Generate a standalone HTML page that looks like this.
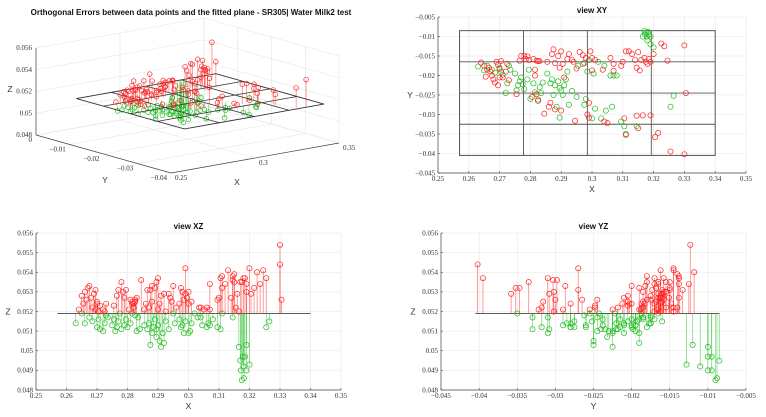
<!DOCTYPE html>
<html><head><meta charset="utf-8"><style>
body{margin:0;background:#fff;width:766px;height:417px;overflow:hidden}
svg{display:block}
text{font-family:"Liberation Serif",serif;font-size:7px;fill:#333}
.t{font-family:"Liberation Sans",sans-serif;font-weight:bold;font-size:8px;fill:#111}
.lab{font-family:"Liberation Sans",sans-serif;font-size:8.5px;fill:#333}
</style></head><body>
<svg id="c" width="766" height="417"></svg>
<script>
const redX=[.264,.265,.266,.2655,.267,.2675,.268,.2665,.269,.2695,.270,.2685,.2695,.270,.271,.272,.2705,.2725,.273,.2755,.2765,.277,.278,.2785,.279,.2795,.281,.2815,.282,.2825,.283,.2815,.2805,.282,.2825,.2845,.2855,.286,.2865,.287,.2875,.288,.288,.289,.2895,.290,.290,.2905,.291,.292,.2925,.2935,.294,.2945,.295,.296,.297,.2975,.298,.2985,.299,.299,.2995,.300,.300,.301,.3035,.304,.305,.306,.307,.307,.3095,.310,.3105,.311,.311,.312,.313,.314,.3145,.3145,.315,.315,.3155,.316,.3165,.317,.3175,.318,.3185,.319,.319,.320,.3205,.3215,.3225,.3235,.3245,.3255,.330,.330,.3305];
const redY=[-.0167,-.0175,-.0185,-.0203,-.0190,-.0200,-.0210,-.0180,-.0165,-.0173,-.0183,-.0218,-.0225,-.0205,-.0205,-.0190,-.0163,-.0170,-.0212,-.0248,-.0162,-.0150,-.0150,-.0158,-.0151,-.0160,-.0158,-.0185,-.0162,-.0163,-.0163,-.0200,-.0255,-.0248,-.0265,-.0298,-.0165,-.0280,-.0270,-.0145,-.0133,-.0168,-.0287,-.0150,-.0180,-.0138,-.0290,-.0170,-.0205,-.0158,-.0145,-.0160,-.0165,-.0316,-.0182,-.0140,-.0148,-.0168,-.0155,-.0300,-.0270,-.0308,-.0138,-.0155,-.0187,-.0160,-.0185,-.0318,-.0322,-.0155,-.0170,-.0188,-.0175,-.0165,-.0310,-.0138,-.0352,-.0138,-.0145,-.0160,-.0303,-.0180,-.0140,-.0335,-.0187,-.0160,-.0302,-.0155,-.0165,-.0170,-.0158,-.0165,-.0302,-.0145,-.0358,-.0347,-.0118,-.0125,-.0162,-.0395,-.0123,-.0402,-.0245];
const redZ=[.0521,.0528,.0530,.0524,.0532,.0533,.0527,.0526,.0529,.0531,.0524,.0522,.0521,.0525,.0523,.0521,.0520,.0520,.0524,.0523,.0528,.0531,.0535,.0530,.0527,.0531,.0526,.0525,.0524,.0525,.0527,.0524,.0521,.0522,.0526,.0536,.0521,.0524,.0531,.0522,.0531,.0525,.0533,.0532,.0535,.0537,.0521,.0524,.0528,.0529,.0520,.0529,.0527,.0525,.0533,.0522,.0524,.0532,.0530,.0526,.0542,.0529,.0527,.0530,.0524,.0525,.0522,.0522,.0521,.0522,.0534,.0521,.0526,.0527,.0537,.0538,.0532,.0534,.0541,.0527,.0536,.0538,.0539,.0535,.0522,.0529,.0520,.0535,.0535,.0537,.0537,.0534,.0530,.0542,.0529,.0532,.0540,.0534,.0541,.0537,.0554,.0544,.0526];
const grnX=[.263,.265,.266,.2675,.2685,.270,.2705,.271,.272,.2725,.273,.2735,.275,.2755,.276,.2765,.277,.2775,.278,.279,.2795,.280,.281,.2815,.2825,.283,.2835,.284,.2855,.2865,.287,.2875,.288,.2885,.289,.2895,.2895,.290,.2905,.291,.2915,.292,.2925,.2935,.295,.2955,.297,.2975,.298,.2985,.299,.300,.3005,.301,.302,.303,.304,.3045,.306,.3065,.307,.308,.3095,.3105,.311,.3145,.3165,.317,.3172,.3175,.3178,.318,.3182,.3185,.319,.319,.320,.3265,.3255];
const grnY=[-.0177,-.0187,-.0175,-.0185,-.0193,-.0180,-.0190,-.0198,-.0245,-.0220,-.0175,-.0185,-.0195,-.0238,-.0225,-.0215,-.0205,-.0222,-.0235,-.0210,-.0185,-.0260,-.0220,-.0243,-.0262,-.0230,-.0245,-.0218,-.0195,-.0220,-.0210,-.0250,-.0225,-.0280,-.0215,-.0308,-.0232,-.0238,-.0250,-.0225,-.0210,-.0190,-.0275,-.0240,-.0255,-.0175,-.0170,-.0275,-.0260,-.0190,-.0160,-.0310,-.0195,-.0285,-.0165,-.0310,-.0175,-.0290,-.0200,-.0280,-.0200,-.0200,-.0318,-.0330,-.0350,-.0330,-.0100,-.0085,-.0095,-.0090,-.0100,-.0110,-.0088,-.0095,-.0120,-.0100,-.0128,-.0252,-.0280];
const grnZ=[.0514,.0519,.0514,.0517,.0515,.0512,.0516,.0511,.0510,.0514,.0518,.0517,.0513,.0516,.0510,.0512,.0515,.0519,.0511,.0513,.0516,.0512,.0514,.0519,.0518,.0510,.0517,.0511,.0513,.0511,.0514,.0503,.0509,.0512,.0516,.0511,.0507,.0513,.0505,.0502,.0509,.0504,.0515,.0511,.0519,.0514,.0516,.0512,.0513,.0509,.0515,.0509,.0510,.0514,.0519,.0517,.0517,.0513,.0512,.0514,.0513,.0516,.0512,.0511,.0519,.0517,.0502,.0495,.0490,.0485,.0497,.0492,.0486,.0497,.0503,.0490,.0493,.0515,.0512];
const planeZ=0.0519, planeX=[0.257,0.34], planeY=[-0.0405,-0.0085];
const xTicks=[.25,.26,.27,.28,.29,.30,.31,.32,.33,.34,.35], xTickLab=["0.25","0.26","0.27","0.28","0.29","0.3","0.31","0.32","0.33","0.34","0.35"];
const yTicks=[-.005,-.01,-.015,-.02,-.025,-.03,-.035,-.04,-.045], yTickLab=["−0.005","−0.01","−0.015","−0.02","−0.025","−0.03","−0.035","−0.04","−0.045"];
const zTicks=[.048,.049,.05,.051,.052,.053,.054,.055,.056], zTickLab=["0.048","0.049","0.05","0.051","0.052","0.053","0.054","0.055","0.056"];
const yzTicks=[-.045,-.04,-.035,-.03,-.025,-.02,-.015,-.01,-.005], yzTickLab=["−0.045","−0.04","−0.035","−0.03","−0.025","−0.02","−0.015","−0.01","−0.005"];

const S=document.getElementById('c'),NS='http://www.w3.org/2000/svg';
function el(t,a,p){const e=document.createElementNS(NS,t);for(const k in a)e.setAttribute(k,a[k]);(p||S).appendChild(e);return e;}
function txt(x,y,s,anchor,cls,p){const e=el('text',{x:x,y:y,'text-anchor':anchor||'middle'},p);if(cls)e.setAttribute('class',cls);e.textContent=s;return e;}
function lin(a,b){return v=>b[0]+(v-a[0])/(a[1]-a[0])*(b[1]-b[0]);}

function panel2D(name,sx,sy,xt,xl,yt,yl,title,xlab,ylab){
  const g=el('g',{});
  
  
  const x0=sx(xt[0]),x1=sx(xt[xt.length-1]),y0=sy(yt[0]),y1=sy(yt[yt.length-1]);
  const L=Math.min(x0,x1),R=Math.max(x0,x1),T=Math.min(y0,y1),B=Math.max(y0,y1);
  xt.forEach((v,i)=>{el('line',{x1:sx(v),x2:sx(v),y1:T,y2:B,stroke:'#e6e6e6','stroke-width':0.6},g);
    el('line',{x1:sx(v),x2:sx(v),y1:B,y2:B-2,stroke:'#444','stroke-width':0.6},g);
    const t=txt(sx(v),B+8,xl[i],'middle',null,g);});
  yt.forEach((v,i)=>{el('line',{x1:L,x2:R,y1:sy(v),y2:sy(v),stroke:'#e6e6e6','stroke-width':0.6},g);
    el('line',{x1:L,x2:L+2,y1:sy(v),y2:sy(v),stroke:'#444','stroke-width':0.6},g);
    const t=txt(L-3,sy(v)+2.3,yl[i],'end',null,g);});
  el('line',{x1:L,x2:R,y1:B,y2:B,stroke:'#444','stroke-width':0.7},g);
  el('line',{x1:L,x2:L,y1:T,y2:B,stroke:'#444','stroke-width':0.7},g);
  const a=txt((L+R)/2,T-4,title,'middle','t',g);
  const b=txt((L+R)/2,B+19,xlab,'middle','lab',g);
  const c=txt(L-28,(T+B)/2+3,ylab,'middle','lab',g);
  return g;
}
function mark(g,x,y,col){const c=el('circle',{cx:x,cy:y,r:2.6,fill:'none',stroke:col,'stroke-width':0.7},g);
  }
function stem(g,x,y0,x2,y,col){const l=el('line',{x1:x,y1:y0,x2:x2,y2:y,stroke:col,'stroke-width':0.8,'stroke-opacity':0.55},g);
  }

{const sx=lin([.25,.35],[438,746]),sy=lin([-.005,-.045],[17,173]);
 const g=panel2D('view-xy-panel',sx,sy,xTicks,xTickLab,yTicks,yTickLab,'view XY','X','Y');
 const px=[planeX[0],planeX[1]],py=[planeY[1],planeY[0]];
 const pg=el('g',{},g);
 el('rect',{x:sx(px[0]),y:sy(py[0]),width:sx(px[1])-sx(px[0]),height:sy(py[1])-sy(py[0]),fill:'none',stroke:'#555','stroke-width':1},pg);
 for(let k=1;k<4;k++){const xv=px[0]+(px[1]-px[0])*k/4,yv=py[0]+(py[1]-py[0])*k/4;
   el('line',{x1:sx(xv),x2:sx(xv),y1:sy(py[0]),y2:sy(py[1]),stroke:'#555','stroke-width':0.9},pg);
   el('line',{x1:sx(px[0]),x2:sx(px[1]),y1:sy(yv),y2:sy(yv),stroke:'#555','stroke-width':0.9},pg);}
 grnX.forEach((v,i)=>mark(g,sx(v),sy(grnY[i]),'#22bb22'));
 redX.forEach((v,i)=>mark(g,sx(v),sy(redY[i]),'#ff2222'));}
{const sx=lin([.25,.35],[36,341]),sz=lin([.048,.056],[390,233]);
 const g=panel2D('view-xz-panel',sx,sz,xTicks,xTickLab,zTicks,zTickLab,'view XZ','X','Z');
 const p=el('line',{x1:sx(planeX[0]),x2:sx(planeX[1]),y1:sz(planeZ),y2:sz(planeZ),stroke:'#444','stroke-width':0.9},g);
 
 grnX.forEach((v,i)=>{stem(g,sx(v),sz(planeZ),sx(v),sz(grnZ[i]),'#22bb22');mark(g,sx(v),sz(grnZ[i]),'#22bb22');});
 redX.forEach((v,i)=>{stem(g,sx(v),sz(planeZ),sx(v),sz(redZ[i]),'#ff2222');mark(g,sx(v),sz(redZ[i]),'#ff2222');});}
{const sy=lin([-.045,-.005],[441,746]),sz=lin([.048,.056],[390,233]);
 const g=panel2D('view-yz-panel',sy,sz,yzTicks,yzTickLab,zTicks,zTickLab,'view YZ','Y','Z');
 const p=el('line',{x1:sy(planeY[0]),x2:sy(planeY[1]),y1:sz(planeZ),y2:sz(planeZ),stroke:'#444','stroke-width':0.9},g);
 
 grnY.forEach((v,i)=>{stem(g,sy(v),sz(planeZ),sy(v),sz(grnZ[i]),'#22bb22');mark(g,sy(v),sz(grnZ[i]),'#22bb22');});
 redY.forEach((v,i)=>{stem(g,sy(v),sz(planeZ),sy(v),sz(redZ[i]),'#ff2222');mark(g,sy(v),sz(redZ[i]),'#ff2222');});}
{const g=el('g',{});
 
 
 const P=(x,y,z)=>[171+(x-.25)/.1*168-(y+.04)/.04*135, 173-(x-.25)/.1*30-(y+.04)/.04*38-(z-.048)/.008*87];
 const L=(a,b,c,w)=>{el('line',{x1:a[0],y1:a[1],x2:b[0],y2:b[1],stroke:c,'stroke-width':w||0.6},g);};
 const gx=[.25,.3,.35],gy=[-.04,-.03,-.02,-.01,0],gz=[.048,.05,.052,.054,.056];
 gz.forEach(z=>{L(P(.25,0,z),P(.35,0,z),'#e4e4e4');L(P(.35,0,z),P(.35,-.04,z),'#e4e4e4');});
 gx.forEach(x=>{L(P(x,0,.048),P(x,0,.056),'#e4e4e4');L(P(x,0,.048),P(x,-.04,.048),'#e4e4e4');});
 gy.forEach(y=>{L(P(.35,y,.048),P(.35,y,.056),'#e4e4e4');L(P(.25,y,.048),P(.35,y,.048),'#e4e4e4');});
 L(P(.25,0,.048),P(.25,0,.056),'#444',0.7);L(P(.25,0,.048),P(.25,-.04,.048),'#444',0.7);L(P(.25,-.04,.048),P(.35,-.04,.048),'#444',0.7);
 gz.forEach((z,i)=>{const p=P(.25,0,z);const t=txt(p[0]-4,p[1]+2,zTickLab[i*2],'end',null,g);});
 [[0,'0'],[-.01,'−0.01'],[-.02,'−0.02'],[-.03,'−0.03'],[-.04,'−0.04']].forEach(d=>{const p=P(.25,d[0],.048);const t=txt(p[0]-4,p[1]+7,d[1],'end',null,g);});
 [[.25,'0.25'],[.3,'0.3'],[.35,'0.35']].forEach(d=>{const p=P(d[0],-.04,.048);const t=txt(p[0]+4,p[1]+7,d[1],'start',null,g);});
 const a=txt(191,15,'Orthogonal Errors between data points and the fitted plane - SR305| Water Milk2 test','middle','t',g);
 const b=txt(105,183,'Y','middle','lab',g);
 const c=txt(237,185,'X','middle','lab',g);
 const d=txt(10,92,'Z','middle','lab',g);
 const m=(x,y,z,col)=>{const p=P(x,y,z),q=P(x,y,planeZ);stem(g,q[0],q[1],p[0],p[1],col);
   const e=el('circle',{cx:p[0],cy:p[1],r:2.3,fill:'none',stroke:col,'stroke-width':0.7},g);
   };
 grnX.forEach((v,i)=>m(v,grnY[i],grnZ[i],'#22bb22'));
 const pg=el('g',{},g);
 const c4=[P(planeX[0],planeY[0],planeZ),P(planeX[1],planeY[0],planeZ),P(planeX[1],planeY[1],planeZ),P(planeX[0],planeY[1],planeZ)];
 el('polygon',{points:c4.map(p=>p.join(',')).join(' '),fill:'none',stroke:'#333','stroke-width':0.9},pg);
 for(let k=1;k<4;k++){const xv=planeX[0]+(planeX[1]-planeX[0])*k/4,yv=planeY[0]+(planeY[1]-planeY[0])*k/4;
   let p1=P(xv,planeY[0],planeZ),p2=P(xv,planeY[1],planeZ);el('line',{x1:p1[0],y1:p1[1],x2:p2[0],y2:p2[1],stroke:'#333','stroke-width':0.8},pg);
   p1=P(planeX[0],yv,planeZ);p2=P(planeX[1],yv,planeZ);el('line',{x1:p1[0],y1:p1[1],x2:p2[0],y2:p2[1],stroke:'#333','stroke-width':0.8},pg);}
 redX.forEach((v,i)=>m(v,redY[i],redZ[i],'#ff2222'));}
</script>
</body></html>
